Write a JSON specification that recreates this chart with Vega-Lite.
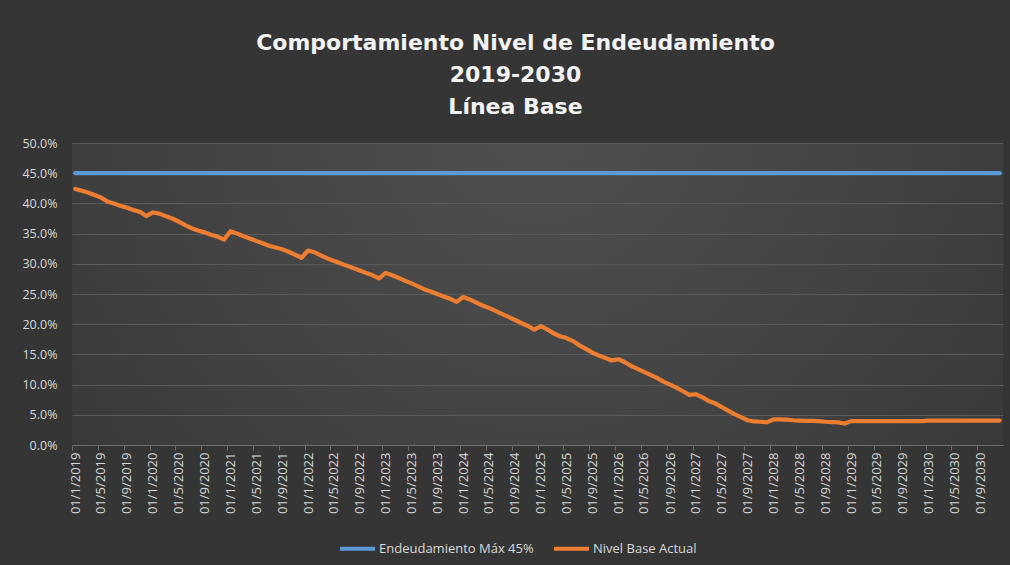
{
  "$schema": "https://vega.github.io/schema/vega-lite/v6.json",
  "width": 931,
  "height": 302,
  "autosize": {"type": "none"},
  "padding": {"left": 72, "top": 143, "right": 7, "bottom": 120},
  "background": "#353535",
  "title": {
    "text": ["Comportamiento Nivel de Endeudamiento", "2019-2030", "Línea Base"],
    "font": "DejaVu Sans",
    "fontSize": 22,
    "fontWeight": "bold",
    "color": "#f2f2f2",
    "lineHeight": 32,
    "anchor": "middle",
    "dx": -22,
    "offset": 18
  },
  "data": {
    "values": [
      {"d": "2019-01-01", "Endeudamiento Máx 45%": 0.45, "Nivel Base Actual": 0.424}, {"d": "2019-02-01", "Endeudamiento Máx 45%": 0.45, "Nivel Base Actual": 0.421}, {"d": "2019-03-01", "Endeudamiento Máx 45%": 0.45, "Nivel Base Actual": 0.418}, {"d": "2019-04-01", "Endeudamiento Máx 45%": 0.45, "Nivel Base Actual": 0.414},
      {"d": "2019-05-01", "Endeudamiento Máx 45%": 0.45, "Nivel Base Actual": 0.410}, {"d": "2019-06-01", "Endeudamiento Máx 45%": 0.45, "Nivel Base Actual": 0.403}, {"d": "2019-07-01", "Endeudamiento Máx 45%": 0.45, "Nivel Base Actual": 0.400}, {"d": "2019-08-01", "Endeudamiento Máx 45%": 0.45, "Nivel Base Actual": 0.396},
      {"d": "2019-09-01", "Endeudamiento Máx 45%": 0.45, "Nivel Base Actual": 0.393}, {"d": "2019-10-01", "Endeudamiento Máx 45%": 0.45, "Nivel Base Actual": 0.389}, {"d": "2019-11-01", "Endeudamiento Máx 45%": 0.45, "Nivel Base Actual": 0.386}, {"d": "2019-12-01", "Endeudamiento Máx 45%": 0.45, "Nivel Base Actual": 0.379},
      {"d": "2020-01-01", "Endeudamiento Máx 45%": 0.45, "Nivel Base Actual": 0.385}, {"d": "2020-02-01", "Endeudamiento Máx 45%": 0.45, "Nivel Base Actual": 0.383}, {"d": "2020-03-01", "Endeudamiento Máx 45%": 0.45, "Nivel Base Actual": 0.379}, {"d": "2020-04-01", "Endeudamiento Máx 45%": 0.45, "Nivel Base Actual": 0.375},
      {"d": "2020-05-01", "Endeudamiento Máx 45%": 0.45, "Nivel Base Actual": 0.370}, {"d": "2020-06-01", "Endeudamiento Máx 45%": 0.45, "Nivel Base Actual": 0.364}, {"d": "2020-07-01", "Endeudamiento Máx 45%": 0.45, "Nivel Base Actual": 0.359}, {"d": "2020-08-01", "Endeudamiento Máx 45%": 0.45, "Nivel Base Actual": 0.355},
      {"d": "2020-09-01", "Endeudamiento Máx 45%": 0.45, "Nivel Base Actual": 0.352}, {"d": "2020-10-01", "Endeudamiento Máx 45%": 0.45, "Nivel Base Actual": 0.348}, {"d": "2020-11-01", "Endeudamiento Máx 45%": 0.45, "Nivel Base Actual": 0.345}, {"d": "2020-12-01", "Endeudamiento Máx 45%": 0.45, "Nivel Base Actual": 0.340},
      {"d": "2021-01-01", "Endeudamiento Máx 45%": 0.45, "Nivel Base Actual": 0.354}, {"d": "2021-02-01", "Endeudamiento Máx 45%": 0.45, "Nivel Base Actual": 0.350}, {"d": "2021-03-01", "Endeudamiento Máx 45%": 0.45, "Nivel Base Actual": 0.346}, {"d": "2021-04-01", "Endeudamiento Máx 45%": 0.45, "Nivel Base Actual": 0.342},
      {"d": "2021-05-01", "Endeudamiento Máx 45%": 0.45, "Nivel Base Actual": 0.338}, {"d": "2021-06-01", "Endeudamiento Máx 45%": 0.45, "Nivel Base Actual": 0.334}, {"d": "2021-07-01", "Endeudamiento Máx 45%": 0.45, "Nivel Base Actual": 0.330}, {"d": "2021-08-01", "Endeudamiento Máx 45%": 0.45, "Nivel Base Actual": 0.327},
      {"d": "2021-09-01", "Endeudamiento Máx 45%": 0.45, "Nivel Base Actual": 0.324}, {"d": "2021-10-01", "Endeudamiento Máx 45%": 0.45, "Nivel Base Actual": 0.320}, {"d": "2021-11-01", "Endeudamiento Máx 45%": 0.45, "Nivel Base Actual": 0.315}, {"d": "2021-12-01", "Endeudamiento Máx 45%": 0.45, "Nivel Base Actual": 0.310},
      {"d": "2022-01-01", "Endeudamiento Máx 45%": 0.45, "Nivel Base Actual": 0.322}, {"d": "2022-02-01", "Endeudamiento Máx 45%": 0.45, "Nivel Base Actual": 0.319}, {"d": "2022-03-01", "Endeudamiento Máx 45%": 0.45, "Nivel Base Actual": 0.314}, {"d": "2022-04-01", "Endeudamiento Máx 45%": 0.45, "Nivel Base Actual": 0.309},
      {"d": "2022-05-01", "Endeudamiento Máx 45%": 0.45, "Nivel Base Actual": 0.305}, {"d": "2022-06-01", "Endeudamiento Máx 45%": 0.45, "Nivel Base Actual": 0.301}, {"d": "2022-07-01", "Endeudamiento Máx 45%": 0.45, "Nivel Base Actual": 0.297}, {"d": "2022-08-01", "Endeudamiento Máx 45%": 0.45, "Nivel Base Actual": 0.293},
      {"d": "2022-09-01", "Endeudamiento Máx 45%": 0.45, "Nivel Base Actual": 0.289}, {"d": "2022-10-01", "Endeudamiento Máx 45%": 0.45, "Nivel Base Actual": 0.285}, {"d": "2022-11-01", "Endeudamiento Máx 45%": 0.45, "Nivel Base Actual": 0.281}, {"d": "2022-12-01", "Endeudamiento Máx 45%": 0.45, "Nivel Base Actual": 0.276},
      {"d": "2023-01-01", "Endeudamiento Máx 45%": 0.45, "Nivel Base Actual": 0.285}, {"d": "2023-02-01", "Endeudamiento Máx 45%": 0.45, "Nivel Base Actual": 0.281}, {"d": "2023-03-01", "Endeudamiento Máx 45%": 0.45, "Nivel Base Actual": 0.277}, {"d": "2023-04-01", "Endeudamiento Máx 45%": 0.45, "Nivel Base Actual": 0.272},
      {"d": "2023-05-01", "Endeudamiento Máx 45%": 0.45, "Nivel Base Actual": 0.268}, {"d": "2023-06-01", "Endeudamiento Máx 45%": 0.45, "Nivel Base Actual": 0.263}, {"d": "2023-07-01", "Endeudamiento Máx 45%": 0.45, "Nivel Base Actual": 0.258}, {"d": "2023-08-01", "Endeudamiento Máx 45%": 0.45, "Nivel Base Actual": 0.254},
      {"d": "2023-09-01", "Endeudamiento Máx 45%": 0.45, "Nivel Base Actual": 0.250}, {"d": "2023-10-01", "Endeudamiento Máx 45%": 0.45, "Nivel Base Actual": 0.246}, {"d": "2023-11-01", "Endeudamiento Máx 45%": 0.45, "Nivel Base Actual": 0.242}, {"d": "2023-12-01", "Endeudamiento Máx 45%": 0.45, "Nivel Base Actual": 0.237},
      {"d": "2024-01-01", "Endeudamiento Máx 45%": 0.45, "Nivel Base Actual": 0.245}, {"d": "2024-02-01", "Endeudamiento Máx 45%": 0.45, "Nivel Base Actual": 0.241}, {"d": "2024-03-01", "Endeudamiento Máx 45%": 0.45, "Nivel Base Actual": 0.236}, {"d": "2024-04-01", "Endeudamiento Máx 45%": 0.45, "Nivel Base Actual": 0.231},
      {"d": "2024-05-01", "Endeudamiento Máx 45%": 0.45, "Nivel Base Actual": 0.227}, {"d": "2024-06-01", "Endeudamiento Máx 45%": 0.45, "Nivel Base Actual": 0.222}, {"d": "2024-07-01", "Endeudamiento Máx 45%": 0.45, "Nivel Base Actual": 0.217}, {"d": "2024-08-01", "Endeudamiento Máx 45%": 0.45, "Nivel Base Actual": 0.212},
      {"d": "2024-09-01", "Endeudamiento Máx 45%": 0.45, "Nivel Base Actual": 0.207}, {"d": "2024-10-01", "Endeudamiento Máx 45%": 0.45, "Nivel Base Actual": 0.202}, {"d": "2024-11-01", "Endeudamiento Máx 45%": 0.45, "Nivel Base Actual": 0.197}, {"d": "2024-12-01", "Endeudamiento Máx 45%": 0.45, "Nivel Base Actual": 0.191},
      {"d": "2025-01-01", "Endeudamiento Máx 45%": 0.45, "Nivel Base Actual": 0.197}, {"d": "2025-02-01", "Endeudamiento Máx 45%": 0.45, "Nivel Base Actual": 0.191}, {"d": "2025-03-01", "Endeudamiento Máx 45%": 0.45, "Nivel Base Actual": 0.185}, {"d": "2025-04-01", "Endeudamiento Máx 45%": 0.45, "Nivel Base Actual": 0.180},
      {"d": "2025-05-01", "Endeudamiento Máx 45%": 0.45, "Nivel Base Actual": 0.177}, {"d": "2025-06-01", "Endeudamiento Máx 45%": 0.45, "Nivel Base Actual": 0.172}, {"d": "2025-07-01", "Endeudamiento Máx 45%": 0.45, "Nivel Base Actual": 0.165}, {"d": "2025-08-01", "Endeudamiento Máx 45%": 0.45, "Nivel Base Actual": 0.159},
      {"d": "2025-09-01", "Endeudamiento Máx 45%": 0.45, "Nivel Base Actual": 0.153}, {"d": "2025-10-01", "Endeudamiento Máx 45%": 0.45, "Nivel Base Actual": 0.148}, {"d": "2025-11-01", "Endeudamiento Máx 45%": 0.45, "Nivel Base Actual": 0.144}, {"d": "2025-12-01", "Endeudamiento Máx 45%": 0.45, "Nivel Base Actual": 0.140},
      {"d": "2026-01-01", "Endeudamiento Máx 45%": 0.45, "Nivel Base Actual": 0.142}, {"d": "2026-02-01", "Endeudamiento Máx 45%": 0.45, "Nivel Base Actual": 0.137}, {"d": "2026-03-01", "Endeudamiento Máx 45%": 0.45, "Nivel Base Actual": 0.131}, {"d": "2026-04-01", "Endeudamiento Máx 45%": 0.45, "Nivel Base Actual": 0.126},
      {"d": "2026-05-01", "Endeudamiento Máx 45%": 0.45, "Nivel Base Actual": 0.121}, {"d": "2026-06-01", "Endeudamiento Máx 45%": 0.45, "Nivel Base Actual": 0.116}, {"d": "2026-07-01", "Endeudamiento Máx 45%": 0.45, "Nivel Base Actual": 0.111}, {"d": "2026-08-01", "Endeudamiento Máx 45%": 0.45, "Nivel Base Actual": 0.105},
      {"d": "2026-09-01", "Endeudamiento Máx 45%": 0.45, "Nivel Base Actual": 0.100}, {"d": "2026-10-01", "Endeudamiento Máx 45%": 0.45, "Nivel Base Actual": 0.095}, {"d": "2026-11-01", "Endeudamiento Máx 45%": 0.45, "Nivel Base Actual": 0.089}, {"d": "2026-12-01", "Endeudamiento Máx 45%": 0.45, "Nivel Base Actual": 0.083},
      {"d": "2027-01-01", "Endeudamiento Máx 45%": 0.45, "Nivel Base Actual": 0.084}, {"d": "2027-02-01", "Endeudamiento Máx 45%": 0.45, "Nivel Base Actual": 0.079}, {"d": "2027-03-01", "Endeudamiento Máx 45%": 0.45, "Nivel Base Actual": 0.073}, {"d": "2027-04-01", "Endeudamiento Máx 45%": 0.45, "Nivel Base Actual": 0.069},
      {"d": "2027-05-01", "Endeudamiento Máx 45%": 0.45, "Nivel Base Actual": 0.063}, {"d": "2027-06-01", "Endeudamiento Máx 45%": 0.45, "Nivel Base Actual": 0.057}, {"d": "2027-07-01", "Endeudamiento Máx 45%": 0.45, "Nivel Base Actual": 0.051}, {"d": "2027-08-01", "Endeudamiento Máx 45%": 0.45, "Nivel Base Actual": 0.046},
      {"d": "2027-09-01", "Endeudamiento Máx 45%": 0.45, "Nivel Base Actual": 0.041}, {"d": "2027-10-01", "Endeudamiento Máx 45%": 0.45, "Nivel Base Actual": 0.039}, {"d": "2027-11-01", "Endeudamiento Máx 45%": 0.45, "Nivel Base Actual": 0.0385}, {"d": "2027-12-01", "Endeudamiento Máx 45%": 0.45, "Nivel Base Actual": 0.0375},
      {"d": "2028-01-01", "Endeudamiento Máx 45%": 0.45, "Nivel Base Actual": 0.0425}, {"d": "2028-02-01", "Endeudamiento Máx 45%": 0.45, "Nivel Base Actual": 0.0425}, {"d": "2028-03-01", "Endeudamiento Máx 45%": 0.45, "Nivel Base Actual": 0.042}, {"d": "2028-04-01", "Endeudamiento Máx 45%": 0.45, "Nivel Base Actual": 0.041},
      {"d": "2028-05-01", "Endeudamiento Máx 45%": 0.45, "Nivel Base Actual": 0.0405}, {"d": "2028-06-01", "Endeudamiento Máx 45%": 0.45, "Nivel Base Actual": 0.040}, {"d": "2028-07-01", "Endeudamiento Máx 45%": 0.45, "Nivel Base Actual": 0.040}, {"d": "2028-08-01", "Endeudamiento Máx 45%": 0.45, "Nivel Base Actual": 0.0395},
      {"d": "2028-09-01", "Endeudamiento Máx 45%": 0.45, "Nivel Base Actual": 0.0385}, {"d": "2028-10-01", "Endeudamiento Máx 45%": 0.45, "Nivel Base Actual": 0.038}, {"d": "2028-11-01", "Endeudamiento Máx 45%": 0.45, "Nivel Base Actual": 0.0375}, {"d": "2028-12-01", "Endeudamiento Máx 45%": 0.45, "Nivel Base Actual": 0.0355},
      {"d": "2029-01-01", "Endeudamiento Máx 45%": 0.45, "Nivel Base Actual": 0.0395}, {"d": "2029-02-01", "Endeudamiento Máx 45%": 0.45, "Nivel Base Actual": 0.0395}, {"d": "2029-03-01", "Endeudamiento Máx 45%": 0.45, "Nivel Base Actual": 0.0395}, {"d": "2029-04-01", "Endeudamiento Máx 45%": 0.45, "Nivel Base Actual": 0.0395},
      {"d": "2029-05-01", "Endeudamiento Máx 45%": 0.45, "Nivel Base Actual": 0.0395}, {"d": "2029-06-01", "Endeudamiento Máx 45%": 0.45, "Nivel Base Actual": 0.0395}, {"d": "2029-07-01", "Endeudamiento Máx 45%": 0.45, "Nivel Base Actual": 0.0395}, {"d": "2029-08-01", "Endeudamiento Máx 45%": 0.45, "Nivel Base Actual": 0.0395},
      {"d": "2029-09-01", "Endeudamiento Máx 45%": 0.45, "Nivel Base Actual": 0.0395}, {"d": "2029-10-01", "Endeudamiento Máx 45%": 0.45, "Nivel Base Actual": 0.0395}, {"d": "2029-11-01", "Endeudamiento Máx 45%": 0.45, "Nivel Base Actual": 0.0395}, {"d": "2029-12-01", "Endeudamiento Máx 45%": 0.45, "Nivel Base Actual": 0.0395},
      {"d": "2030-01-01", "Endeudamiento Máx 45%": 0.45, "Nivel Base Actual": 0.0405}, {"d": "2030-02-01", "Endeudamiento Máx 45%": 0.45, "Nivel Base Actual": 0.0405}, {"d": "2030-03-01", "Endeudamiento Máx 45%": 0.45, "Nivel Base Actual": 0.0405}, {"d": "2030-04-01", "Endeudamiento Máx 45%": 0.45, "Nivel Base Actual": 0.0405},
      {"d": "2030-05-01", "Endeudamiento Máx 45%": 0.45, "Nivel Base Actual": 0.0405}, {"d": "2030-06-01", "Endeudamiento Máx 45%": 0.45, "Nivel Base Actual": 0.0405}, {"d": "2030-07-01", "Endeudamiento Máx 45%": 0.45, "Nivel Base Actual": 0.0405}, {"d": "2030-08-01", "Endeudamiento Máx 45%": 0.45, "Nivel Base Actual": 0.0405},
      {"d": "2030-09-01", "Endeudamiento Máx 45%": 0.45, "Nivel Base Actual": 0.0405}, {"d": "2030-10-01", "Endeudamiento Máx 45%": 0.45, "Nivel Base Actual": 0.0405}, {"d": "2030-11-01", "Endeudamiento Máx 45%": 0.45, "Nivel Base Actual": 0.0405}, {"d": "2030-12-01", "Endeudamiento Máx 45%": 0.45, "Nivel Base Actual": 0.0405}
    ]
  },
  "transform": [
    {"fold": ["Endeudamiento Máx 45%", "Nivel Base Actual"], "as": ["serie", "valor"]}
  ],
  "mark": {"type": "line", "strokeCap": "round", "strokeJoin": "round", "strokeWidth": 4.2},
  "encoding": {
    "x": {
      "field": "d",
      "type": "temporal",
      "scale": {
        "type": "utc",
        "domain": [
          {"year": 2018, "month": 12, "date": 16, "hours": 12, "utc": true},
          {"year": 2030, "month": 12, "date": 16, "hours": 12, "utc": true}
        ]
      },
      "axis": {
        "title": null,
        "format": "%d/%-m/%Y",
        "tickCount": {"interval": "month", "step": 4},
        "labelAngle": -90,
        "labelAlign": "right",
        "labelBaseline": "middle",
        "grid": false,
        "domainColor": "#6e6e6e",
        "tickColor": "#6e6e6e",
        "tickSize": 5,
        "labelPadding": 2,
        "labelColor": "#d9d9d9",
        "labelFont": "Open Sans",
        "labelFontSize": 13,
        "tickOffset": -3.2,
        "labelOffset": 3.2,
        "labelOverlap": false
      }
    },
    "y": {
      "field": "valor",
      "type": "quantitative",
      "scale": {"domain": [0, 0.5]},
      "axis": {
        "title": null,
        "format": ".1%",
        "values": [0, 0.05, 0.1, 0.15, 0.2, 0.25, 0.3, 0.35, 0.4, 0.45, 0.5],
        "domain": false,
        "ticks": false,
        "labelPadding": 15,
        "gridColor": "#5a5a5a",
        "labelColor": "#d9d9d9",
        "labelFont": "Open Sans",
        "labelFontSize": 12.5
      }
    },
    "color": {
      "field": "serie",
      "type": "nominal",
      "scale": {"domain": ["Endeudamiento Máx 45%", "Nivel Base Actual"], "range": ["#5B9BD5", "#ED7D31"]},
      "legend": {
        "title": null,
        "orient": "none",
        "legendX": 266,
        "legendY": 386,
        "direction": "horizontal",
        "symbolType": "stroke",
        "symbolSize": 1225,
        "symbolStrokeWidth": 4,
        "labelColor": "#d9d9d9",
        "labelFont": "Open Sans",
        "labelFontSize": 13,
        "columnPadding": 12,
        "labelOffset": 2
      }
    }
  },
  "config": {
    "view": {
      "stroke": null,
      "fill": {
        "gradient": "radial",
        "x1": 0.5, "y1": 0.3, "r1": 0,
        "x2": 0.5, "y2": 0.3, "r2": 0.75,
        "stops": [{"offset": 0, "color": "#505050"}, {"offset": 1, "color": "#353535"}]
      }
    }
  }
}
